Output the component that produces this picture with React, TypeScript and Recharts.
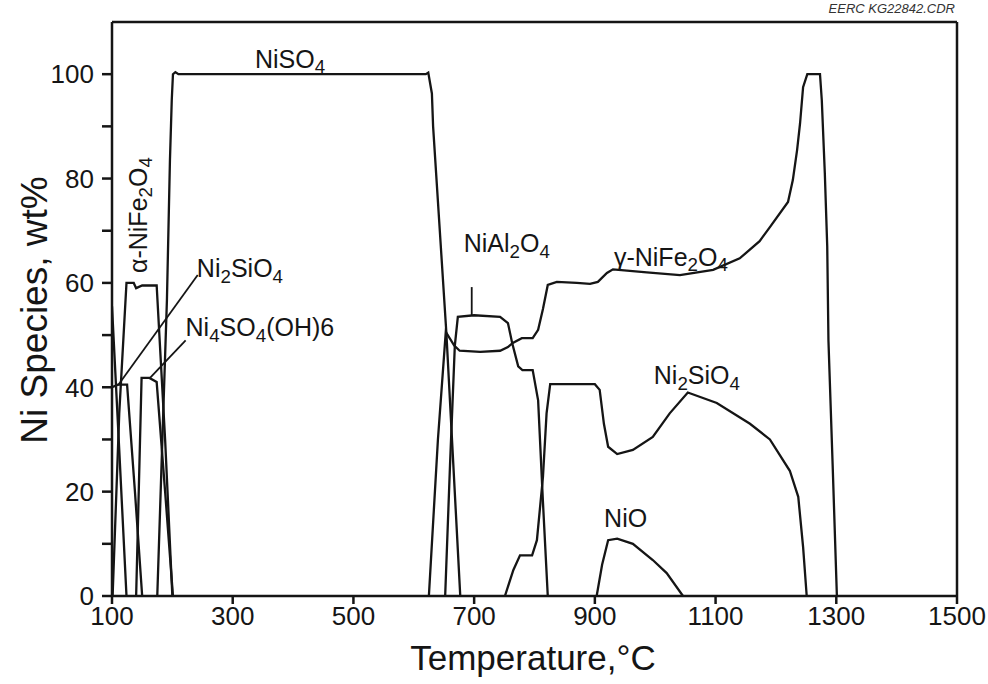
import React from "react";
import { LineChart, Line, XAxis, YAxis, ReferenceLine, ReferenceDot } from "recharts";

const FONT = '"Liberation Sans", Arial, Helvetica, sans-serif';
const INK = "#151515";

// temperature (°C), Ni species (wt%)
const alphaNiFe2O4 = [[101, 0], [112, 35], [124, 60], [136, 60], [140, 59], [150, 59.5], [174, 59.5], [188, 30], [200, 0]];
const ni2SiO4Low = [[100, 40], [110, 40.5], [125, 40.5], [138, 20], [150, 0]];
const ni4SO4OH6Low = [[100, 55.5], [112, 28], [124, 0]];
const ni4SO4OH6High = [[140, 0], [149, 41.8], [162, 41.8], [174, 41], [188, 20], [201, 0]];
const niSO4 = [[175, 0], [191, 56.7], [196, 83.5], [199, 95], [201, 100], [205, 100.4], [210, 100], [620, 100], [624, 100.3], [630, 96.3], [632, 90], [654, 50.4], [677, 0]];
const gammaNiFe2O4 = [[625, 0], [640, 30], [653, 50.6], [667, 48], [676, 47], [710, 46.8], [743, 47], [756, 47.7], [764, 48.5], [779, 49.4], [797, 49.4], [806, 51], [814, 55], [822, 59.6], [837, 60.2], [870, 60], [892, 59.8], [905, 60.2], [920, 61.9], [930, 62.6], [986, 62], [1041, 61.5], [1096, 62.5], [1140, 64.7], [1173, 68], [1190, 70.7], [1220, 75.5], [1228, 79.7], [1235, 85.4], [1240, 90.6], [1245, 97.5], [1252, 100], [1273, 100], [1276, 95], [1281, 81], [1285, 67], [1287, 49], [1294, 25], [1301, 0]];
const niAl2O4 = [[652, 0], [660, 25], [668, 48], [673, 53.5], [700, 53.8], [743, 53.5], [756, 52.3], [763, 48.5], [773, 44], [780, 43.3], [797, 43.3], [806, 37.5], [814, 18], [822, 0]];
const ni2SiO4High = [[751, 0], [765, 5], [776, 7.8], [796, 7.8], [804, 10.7], [814, 22.8], [820, 35], [826, 40.6], [860, 40.6], [900, 40.6], [908, 39.5], [915, 33], [922, 28.6], [937, 27.2], [963, 28], [996, 30.5], [1024, 35], [1054, 39], [1102, 37], [1157, 33], [1190, 30], [1223, 24], [1237, 19], [1245, 9.4], [1251, 0]];
const niO = [[903, 0], [912, 6], [922, 10.7], [937, 11], [963, 10], [996, 6.9], [1019, 4.4], [1046, 0]];

const series = [alphaNiFe2O4, ni2SiO4Low, ni4SO4OH6Low, ni4SO4OH6High, niSO4, gammaNiFe2O4, niAl2O4, ni2SiO4High, niO];

const xTicks = [100, 300, 500, 700, 900, 1100, 1300, 1500];
const yTicks = [0, 10, 20, 30, 40, 50, 60, 70, 80, 90, 100];

// annotation text: [T, wt%, parts, rotated]
const labels: [number, number, [string, boolean][], boolean][] = [
  [395, 103, [["NiSO", false], ["4", true]], false],
  [143, 73, [["\u03b1-NiFe", false], ["2", true], ["O", false], ["4", true]], true],
  [312, 62.8, [["Ni", false], ["2", true], ["SiO", false], ["4", true]], false],
  [345, 51.5, [["Ni", false], ["4", true], ["SO", false], ["4", true], ["(OH)6", false]], false],
  [754, 67.6, [["NiAl", false], ["2", true], ["O", false], ["4", true]], false],
  [1026, 65, [["\u03b3-NiFe", false], ["2", true], ["O", false], ["4", true]], false],
  [1069, 42.3, [["Ni", false], ["2", true], ["SiO", false], ["4", true]], false],
  [951, 14.9, [["NiO", false]], false],
];

const leaders = [
  [[242, 61.5], [110, 40.4]],
  [[222, 49], [163, 41.8]],
  [[696, 59.2], [696, 53.7]],
];

const toPts = (a: number[][]) => a.map(([t, v]) => ({ t, v }));

function Chem({ cx, cy, parts, rotated }: any) {
  const size = 25;
  let shift = 0;
  const spans = parts.map(([s, sub]: [string, boolean], i: number) => {
    const target = sub ? size * 0.3 : 0;
    const el = (
      <tspan key={i} dy={target - shift} fontSize={sub ? size * 0.75 : size}>
        {s}
      </tspan>
    );
    shift = target;
    return el;
  });
  return (
    <text
      x={cx}
      y={cy}
      textAnchor="middle"
      dominantBaseline="central"
      fontFamily={FONT}
      fill={INK}
      transform={rotated ? `rotate(-90 ${cx} ${cy})` : undefined}
    >
      {spans}
    </text>
  );
}

export default function App() {
  return (
    <div style={{ position: "absolute", left: 0, top: 0, width: 988, height: 684, background: "#fff", fontFamily: FONT }}>
      <div style={{ position: "absolute", right: 33, top: 1, fontSize: 13, fontStyle: "italic", color: "#333" }}>
        EERC KG22842.CDR
      </div>
      <div style={{ position: "absolute", left: 0, width: 1066, top: 638, textAlign: "center", fontSize: 35, color: INK }}>
        Temperature,°C
      </div>
      <div
        style={{
          position: "absolute",
          left: 35,
          top: 310,
          fontSize: 37,
          color: INK,
          whiteSpace: "nowrap",
          transform: "translate(-50%, -50%) rotate(-90deg)",
        }}
      >
        Ni Species, wt%
      </div>
      <LineChart width={988} height={684} margin={{ top: 22, right: 31, left: 0, bottom: 0 }}>
        <XAxis
          type="number"
          dataKey="t"
          domain={[100, 1500]}
          ticks={xTicks}
          allowDataOverflow
          height={88}
          tickSize={8}
          tickMargin={3}
          stroke={INK}
          strokeWidth={2.5}
          tick={{ fontSize: 26, fill: INK, fontFamily: FONT }}
        />
        <YAxis
          type="number"
          domain={[0, 110]}
          ticks={yTicks}
          allowDataOverflow
          width={112}
          tickSize={10}
          tickMargin={8}
          stroke={INK}
          strokeWidth={2.5}
          tickFormatter={(v: number) => (v % 20 === 0 ? String(v) : "")}
          tick={{ fontSize: 26, fill: INK, fontFamily: FONT }}
        />
        <ReferenceLine y={110} stroke={INK} strokeWidth={2.5} ifOverflow="visible" />
        <ReferenceLine x={1500} stroke={INK} strokeWidth={2.5} ifOverflow="visible" />
        {leaders.map((seg, i) => (
          <ReferenceLine
            key={"l" + i}
            segment={[{ x: seg[0][0], y: seg[0][1] }, { x: seg[1][0], y: seg[1][1] }]}
            stroke={INK}
            strokeWidth={1.8}
            ifOverflow="visible"
          />
        ))}
        {series.map((s, i) => (
          <Line
            key={"s" + i}
            data={toPts(s)}
            dataKey="v"
            type="linear"
            stroke={INK}
            strokeWidth={2.3}
            dot={false}
            isAnimationActive={false}
          />
        ))}
        {labels.map(([t, v, parts, rotated], i) => (
          <ReferenceDot
            key={"t" + i}
            x={t}
            y={v}
            r={0}
            ifOverflow="visible"
            shape={(p: any) => <Chem cx={p.cx} cy={p.cy} parts={parts} rotated={rotated} />}
          />
        ))}
      </LineChart>
    </div>
  );
}
